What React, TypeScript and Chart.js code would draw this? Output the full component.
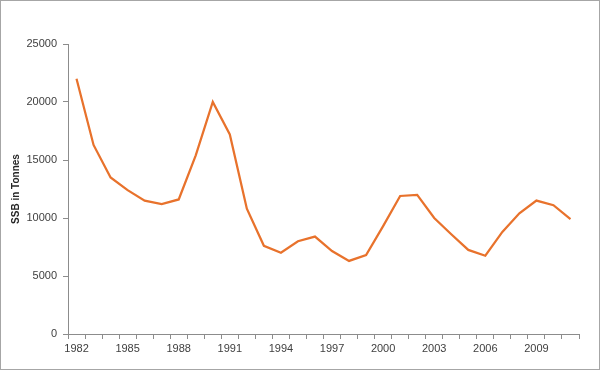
import React, { useEffect, useRef } from "react";
import { Chart, registerables } from "chart.js";

Chart.register(...registerables);

const years: string[] = [
  "1982", "1983", "1984", "1985", "1986", "1987", "1988", "1989", "1990", "1991",
  "1992", "1993", "1994", "1995", "1996", "1997", "1998", "1999", "2000", "2001",
  "2002", "2003", "2004", "2005", "2006", "2007", "2008", "2009", "2010", "2011",
];

const ssb: number[] = [
  22000, 16300, 13500, 12400, 11500, 11200, 11600, 15400, 20000, 17200,
  10800, 7600, 7000, 8000, 8400, 7150, 6300, 6800, 9300, 11900,
  12000, 10000, 8600, 7250, 6750, 8800, 10400, 11500, 11100, 9900,
];

const yTicks: number[] = [0, 5000, 10000, 15000, 20000, 25000];

const borderPlugin = {
  id: "outerBorder",
  afterDraw(chart: any) {
    const ctx = chart.ctx;
    ctx.save();
    ctx.strokeStyle = "#a6a6a6";
    ctx.lineWidth = 1;
    ctx.strokeRect(0.5, 0.5, chart.width - 1, chart.height - 1);
    ctx.restore();
  },
};

export default function App() {
  const ref = useRef<HTMLCanvasElement | null>(null);

  useEffect(() => {
    document.body.style.margin = "0";
    if (!ref.current) return;
    const chart = new Chart(ref.current, {
      type: "line",
      data: {
        labels: years,
        datasets: [
          {
            label: "SSB",
            data: ssb,
            borderColor: "#e8722c",
            borderWidth: 2.25,
            pointRadius: 0,
            tension: 0,
            fill: false,
          },
        ],
      },
      options: {
        animation: false,
        responsive: false,
        maintainAspectRatio: false,
        layout: { padding: { top: 44, right: 21, left: 0, bottom: 0 } },
        plugins: {
          legend: { display: false },
          tooltip: { enabled: false },
        },
        scales: {
          x: {
            type: "category",
            offset: true,
            grid: {
              offset: true,
              drawOnChartArea: false,
              drawTicks: true,
              tickLength: 5,
              color: "#8c8c8c",
            },
            border: { display: true, color: "#8c8c8c", width: 1 },
            ticks: {
              autoSkip: false,
              maxRotation: 0,
              padding: 3,
              color: "#404040",
              font: { family: "Liberation Sans", size: 11 },
              callback: (_v: any, i: number) => (i % 3 === 0 ? years[i] : ""),
            },
            afterFit: (s: any) => {
              s.height = 36;
            },
          },
          y: {
            min: 0,
            max: 25000,
            afterBuildTicks: (s: any) => {
              s.ticks = yTicks.map((v) => ({ value: v }));
            },
            grid: {
              drawOnChartArea: false,
              drawTicks: true,
              tickLength: 5,
              color: "#8c8c8c",
            },
            border: { display: true, color: "#8c8c8c", width: 1 },
            ticks: {
              padding: 6,
              color: "#404040",
              font: { family: "Liberation Sans", size: 11 },
              callback: (v: any) => String(v),
            },
            title: {
              display: true,
              text: "SSB in Tonnes",
              color: "#262626",
              font: { family: "Liberation Sans", size: 10, weight: "bold" },
              padding: { top: 10, bottom: 0 },
            },
            afterFit: (s: any) => {
              s.width = 68;
            },
          },
        },
      },
      plugins: [borderPlugin],
    });
    return () => chart.destroy();
  }, []);

  return (
    <div style={{ width: 600, height: 370 }}>
      <canvas ref={ref} width={600} height={370} style={{ display: "block", width: 600, height: 370 }} />
    </div>
  );
}
